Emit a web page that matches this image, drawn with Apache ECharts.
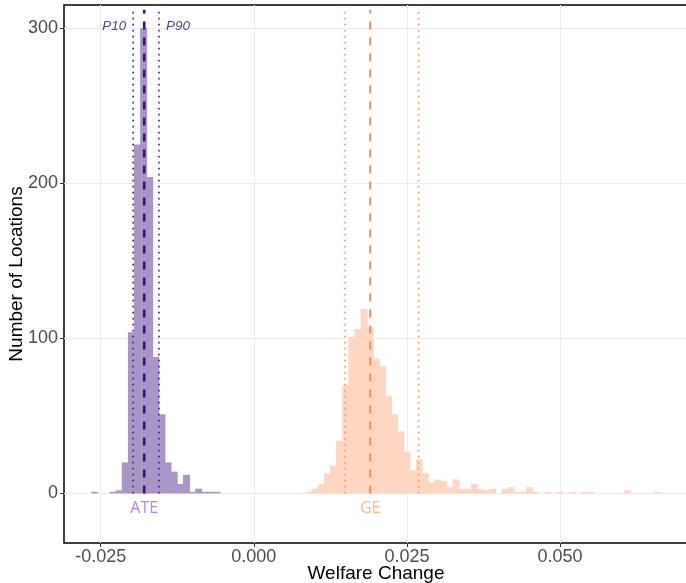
<!DOCTYPE html>
<html>
<head>
<meta charset="utf-8">
<title>Welfare Change</title>
<script src="https://cdn.jsdelivr.net/npm/echarts@6.0.0/dist/echarts.min.js"></script>
<style>
  html, body { margin: 0; padding: 0; background: #fff; }
  #main { width: 686px; height: 583px; }
</style>
</head>
<body>
<div id="main"></div>
<script>
// histogram bins, width 0.001, first bin centre given
var binWidth = 0.001;
var ateStart = -0.026;
var ateCounts = [1, 0, 0, 1, 2, 20, 104, 225, 300, 204, 88, 51, 20, 14, 6, 12, 1, 3, 1, 1, 1];
var geStart = 0.009;
var geCounts = [1, 3, 6, 13, 18, 34, 70, 101, 106, 119, 107, 87, 82, 63, 51, 40, 27, 15, 22, 13,
  7, 9, 8, 4, 9, 3, 3, 6, 3, 2, 3, 0, 3, 4, 1, 1, 4, 1, 0, 1,
  0, 1, 0, 1, 0, 1, 1, 0, 0, 0, 0, 0, 2, 0, 0, 0, 0, 1];

// summary lines: mean, P10, P90
var ateStats = { mean: -0.0179, p10: -0.0197, p90: -0.0155 };
var geStats = { mean: 0.0190, p10: 0.0149, p90: 0.0269 };
var lineTop = 312;

var xTicks = [-0.025, 0, 0.025, 0.05];
var yTicks = [0, 100, 200, 300];

function toBins(start, counts) {
  var out = [];
  for (var i = 0; i < counts.length; i++) {
    out.push([+(start + i * binWidth).toFixed(4), counts[i]]);
  }
  return out;
}

// one rect per bin, a little wider so neighbours overlap (opaque fill, no seams)
function histItem(params, api) {
  var x = api.value(0), n = api.value(1);
  var p0 = api.coord([x - binWidth / 2, n]);
  var p1 = api.coord([x + binWidth / 2, 0]);
  return {
    type: 'rect',
    shape: { x: p0[0] - 0.4, y: p0[1], width: p1[0] - p0[0] + 0.8, height: p1[1] - p0[1] },
    style: { fill: api.visual('color'), stroke: null, lineWidth: 0 }
  };
}

function vline(x, color, type, width) {
  return {
    type: 'line', silent: true, symbol: 'none', animation: false,
    data: [[x, 0], [x, lineTop]],
    lineStyle: { color: color, type: type, width: width },
    z: 5
  };
}

var myChart = echarts.init(document.getElementById('main'));

myChart.setOption({
  backgroundColor: '#fff',
  animation: false,
  grid: {
    left: 64, top: 5, right: -2, bottom: 40, outerBoundsMode: 'none', containLabel: false,
    show: true, borderColor: '#000', borderWidth: 1.5
  },
  xAxis: {
    type: 'value', min: -0.031, max: 0.0709,
    axisLine: { show: false, onZero: false },
    axisTick: { show: true, customValues: xTicks, length: 4, lineStyle: { color: '#333' } },
    axisLabel: {
      customValues: xTicks, color: '#4d4d4d', fontSize: 18, margin: 5,
      fontFamily: 'Liberation Sans',
      formatter: function (v) { return v.toFixed(3); }
    },
    splitLine: { show: true, lineStyle: { color: '#ececec', width: 1 } },
    name: 'Welfare Change', nameLocation: 'middle', nameGap: 21, nameMoveOverlap: false,
    nameTextStyle: { color: '#000', fontSize: 19, fontFamily: 'Liberation Sans' }
  },
  yAxis: {
    type: 'value', min: -32, max: 315,
    axisLine: { show: false, onZero: false },
    axisTick: { show: true, customValues: yTicks, length: 4, lineStyle: { color: '#333' } },
    axisLabel: {
      customValues: yTicks, color: '#4d4d4d', fontSize: 18, margin: 6,
      fontFamily: 'Liberation Sans'
    },
    splitLine: { show: true, lineStyle: { color: '#ececec', width: 1 } },
    name: 'Number of Locations', nameLocation: 'middle', nameGap: 38, nameRotate: 90,
    nameMoveOverlap: false,
    nameTextStyle: { color: '#000', fontSize: 19, fontFamily: 'Liberation Sans' }
  },
  series: [
    {
      type: 'custom', name: 'ATE', renderItem: histItem, clip: true,
      itemStyle: { color: '#a896c6' },
      encode: { x: 0, y: 1 },
      data: toBins(ateStart, ateCounts)
    },
    {
      type: 'custom', name: 'GE', renderItem: histItem, clip: true,
      itemStyle: { color: '#ffd6c2' },
      encode: { x: 0, y: 1 },
      data: toBins(geStart, geCounts)
    },
    vline(ateStats.p10, '#4f2a8c', [1.6, 4.4], 1.7),
    vline(ateStats.p90, '#4f2a8c', [1.6, 4.4], 1.7),
    vline(ateStats.mean, '#3f0f7d', [8, 8], 2.6),
    vline(geStats.p10, '#f79a66', [1.6, 4.4], 1.7),
    vline(geStats.p90, '#f79a66', [1.6, 4.4], 1.7),
    vline(geStats.mean, '#f7965a', [8, 8], 2.2),
    {
      type: 'scatter', silent: true, symbolSize: 0, z: 6,
      data: [
        { value: [ateStats.mean, -9.5], label: { formatter: 'ATE', color: '#a262f7' } },
        { value: [geStats.mean, -9.5], label: { formatter: 'GE', color: '#ffa463' } }
      ],
      label: { show: true, position: 'inside', fontSize: 16, fontFamily: 'Open Sans' }
    },
    {
      type: 'scatter', silent: true, symbolSize: 0, z: 6,
      data: [
        { value: [ateStats.p10, 301], label: { formatter: 'P10', position: 'left', distance: 7 } },
        { value: [ateStats.p90, 301], label: { formatter: 'P90', position: 'right', distance: 7 } }
      ],
      label: { show: true, fontSize: 13.5, fontStyle: 'italic', color: '#2e0f63', fontFamily: 'Liberation Sans' }
    }
  ]
});
</script>
</body>
</html>
